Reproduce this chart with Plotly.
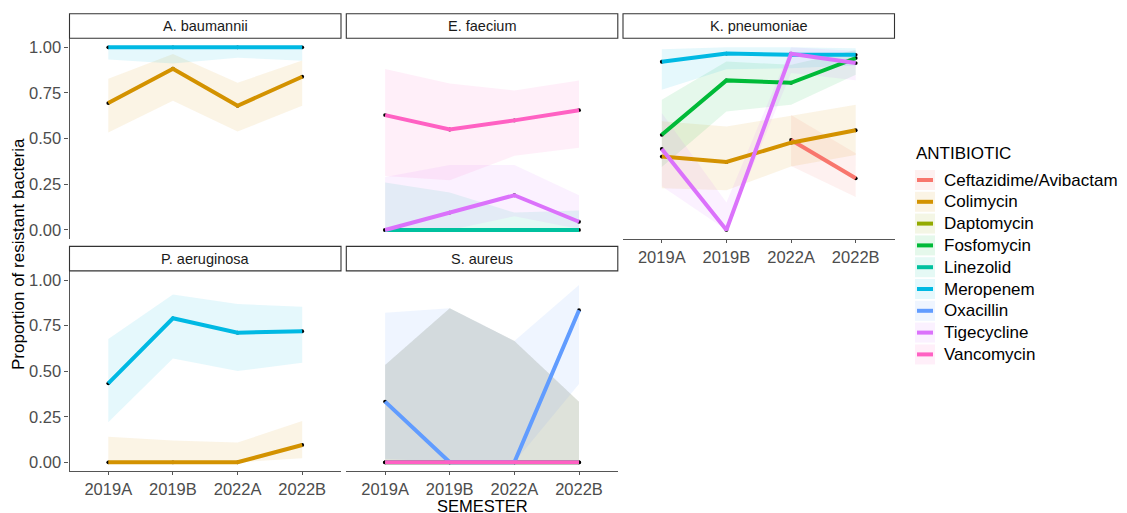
import plotly.graph_objects as go

W, H = 1127, 513

SEMESTERS = ["2019A", "2019B", "2022A", "2022B"]
ANTIBIOTICS = ["Ceftazidime/Avibactam", "Colimycin", "Daptomycin", "Fosfomycin",
               "Linezolid", "Meropenem", "Oxacillin", "Tigecycline", "Vancomycin"]
COLORS = ["#F8766D", "#D39200", "#93AA00", "#00BA38", "#00C19F",
          "#00B9E3", "#619CFF", "#DB72FB", "#FF61C3"]
Y_TICKS = [0, 0.25, 0.5, 0.75, 1.0]
Y_TICK_LABELS = ["0.00", "0.25", "0.50", "0.75", "1.00"]

# A. baumannii: proportion resistant, lower / upper confidence bound
ab_colimycin = [0.695, 0.883, 0.680, 0.839]
ab_colimycin_lo = [0.534, 0.707, 0.539, 0.680]
ab_colimycin_hi = [0.828, 0.963, 0.806, 0.928]
ab_meropenem = [1.0, 1.0, 1.0, 1.0]
ab_meropenem_lo = [0.934, 0.912, 0.943, 0.927]
ab_meropenem_hi = [1.0, 1.0, 1.0, 1.0]

# E. faecium
ef_linezolid = [0.0, 0.0, 0.0, 0.0]
ef_linezolid_lo = [0.0, 0.0, 0.0, 0.0]
ef_linezolid_hi = [0.26, 0.205, 0.095, 0.106]
ef_tigecycline = [0.0, 0.095, 0.19, 0.045]
ef_tigecycline_lo = [0.0, 0.0, 0.075, 0.005]
ef_tigecycline_hi = [0.29, 0.356, 0.356, 0.19]
ef_vancomycin = [0.629, 0.550, 0.600, 0.656]
ef_vancomycin_lo = [0.296, 0.272, 0.406, 0.450]
ef_vancomycin_hi = [0.881, 0.802, 0.764, 0.819]

# K. pneumoniae
kp_ceftazidime = [None, None, 0.493, 0.283]
kp_ceftazidime_lo = [None, None, 0.35, 0.18]
kp_ceftazidime_hi = [None, None, 0.63, 0.42]
kp_colimycin = [0.402, 0.372, 0.478, 0.546]
kp_colimycin_lo = [0.228, 0.217, 0.347, 0.41]
kp_colimycin_hi = [0.595, 0.567, 0.625, 0.685]
kp_fosfomycin = [0.521, 0.819, 0.806, 0.941]
kp_fosfomycin_lo = [0.345, 0.649, 0.685, 0.85]
kp_fosfomycin_hi = [0.713, 0.922, 0.905, 0.985]
kp_meropenem = [0.921, 0.966, 0.959, 0.959]
kp_meropenem_lo = [0.768, 0.88, 0.885, 0.9]
kp_meropenem_hi = [0.99, 1.0, 1.0, 0.995]
kp_tigecycline = [0.444, 0.0, 0.965, 0.914]
kp_tigecycline_lo = [0.24, 0.0, 0.86, 0.82]
kp_tigecycline_hi = [0.64, 0.15, 1.0, 0.98]

# P. aeruginosa
pa_colimycin = [0.0, 0.0, 0.0, 0.095]
pa_colimycin_lo = [0.0, 0.0, 0.0, 0.022]
pa_colimycin_hi = [0.14, 0.119, 0.108, 0.227]
pa_meropenem = [0.433, 0.790, 0.711, 0.719]
pa_meropenem_lo = [0.219, 0.570, 0.501, 0.546]
pa_meropenem_hi = [0.676, 0.921, 0.868, 0.854]

# S. aureus
sa_daptomycin = [0.0, 0.0, 0.0, 0.0]
sa_daptomycin_lo = [0.0, 0.0, 0.0, 0.0]
sa_daptomycin_hi = [0.534, 0.845, 0.665, 0.332]
sa_linezolid = [0.0, 0.0, 0.0, 0.0]
sa_linezolid_lo = [0.0, 0.0, 0.0, 0.0]
sa_linezolid_hi = [0.534, 0.845, 0.665, 0.332]
sa_oxacillin = [0.333, 0.0, 0.0, 0.834]
sa_oxacillin_lo = [0.02, 0.0, 0.0, 0.43]
sa_oxacillin_hi = [0.821, 0.845, 0.665, 0.973]
sa_vancomycin = [0.0, 0.0, 0.0, 0.0]
sa_vancomycin_lo = [0.0, 0.0, 0.0, 0.0]
sa_vancomycin_hi = [0.534, 0.845, 0.665, 0.332]

# facet -> (row, col, {antibiotic: (estimate, lower, upper)})
PANELS = [
    ("A. baumannii", 0, 0, {
        "Colimycin": (ab_colimycin, ab_colimycin_lo, ab_colimycin_hi),
        "Meropenem": (ab_meropenem, ab_meropenem_lo, ab_meropenem_hi)}),
    ("E. faecium", 0, 1, {
        "Linezolid": (ef_linezolid, ef_linezolid_lo, ef_linezolid_hi),
        "Tigecycline": (ef_tigecycline, ef_tigecycline_lo, ef_tigecycline_hi),
        "Vancomycin": (ef_vancomycin, ef_vancomycin_lo, ef_vancomycin_hi)}),
    ("K. pneumoniae", 0, 2, {
        "Ceftazidime/Avibactam": (kp_ceftazidime, kp_ceftazidime_lo, kp_ceftazidime_hi),
        "Colimycin": (kp_colimycin, kp_colimycin_lo, kp_colimycin_hi),
        "Fosfomycin": (kp_fosfomycin, kp_fosfomycin_lo, kp_fosfomycin_hi),
        "Meropenem": (kp_meropenem, kp_meropenem_lo, kp_meropenem_hi),
        "Tigecycline": (kp_tigecycline, kp_tigecycline_lo, kp_tigecycline_hi)}),
    ("P. aeruginosa", 1, 0, {
        "Colimycin": (pa_colimycin, pa_colimycin_lo, pa_colimycin_hi),
        "Meropenem": (pa_meropenem, pa_meropenem_lo, pa_meropenem_hi)}),
    ("S. aureus", 1, 1, {
        "Daptomycin": (sa_daptomycin, sa_daptomycin_lo, sa_daptomycin_hi),
        "Linezolid": (sa_linezolid, sa_linezolid_lo, sa_linezolid_hi),
        "Oxacillin": (sa_oxacillin, sa_oxacillin_lo, sa_oxacillin_hi),
        "Vancomycin": (sa_vancomycin, sa_vancomycin_lo, sa_vancomycin_hi)}),
]

# panel geometry in pixels
COL_PX = [(69.5, 341.0), (346.3, 617.8), (623.0, 894.5)]
ROW_PX = [(38.2, 239.1), (270.9, 471.4)]
STRIP_H = 24.5

FONT = "Liberation Sans, Arial, sans-serif"
AXIS_COL = "#555555"
TICK_TXT = "#4D4D4D"
LINE_W = 4.0


def fx(px):
    return px / W


def fy(py):
    return 1 - py / H


def rgba(hex_col, a):
    h = hex_col.lstrip("#")
    r, g, b = int(h[0:2], 16), int(h[2:4], 16), int(h[4:6], 16)
    return f"rgba({r},{g},{b},{a})"


fig = go.Figure()
shapes = []
annotations = []
layout_axes = {}

for k, (name, row, col, series) in enumerate(PANELS, start=1):
    xs = "x" if k == 1 else f"x{k}"
    ys = "y" if k == 1 else f"y{k}"
    xa = "xaxis" if k == 1 else f"xaxis{k}"
    ya = "yaxis" if k == 1 else f"yaxis{k}"
    x0, x1 = COL_PX[col]
    y0, y1 = ROW_PX[row]
    order = [a for a in ANTIBIOTICS if a in series]

    # is this panel on the outer left / bottom edge of the grid?
    show_y = col == 0
    show_x = row == 1 or col == 2

    # confidence ribbons
    for ab in order:
        est, lo, hi = series[ab]
        c = COLORS[ANTIBIOTICS.index(ab)]
        idx = [i for i, v in enumerate(est) if v is not None]
        cats = [SEMESTERS[i] for i in idx]
        fig.add_trace(go.Scatter(
            x=cats + cats[::-1],
            y=[hi[i] for i in idx] + [lo[i] for i in idx][::-1],
            fill="toself", fillcolor=rgba(c, 0.1), line=dict(width=0),
            mode="lines", hoverinfo="skip", showlegend=False,
            xaxis=xs, yaxis=ys))
    # points
    for ab in order:
        est, lo, hi = series[ab]
        idx = [i for i, v in enumerate(est) if v is not None]
        fig.add_trace(go.Scatter(
            x=[SEMESTERS[i] for i in idx], y=[est[i] for i in idx],
            mode="markers", marker=dict(color="black", size=3.8),
            showlegend=False, hoverinfo="skip", xaxis=xs, yaxis=ys))
    # lines
    for ab in order:
        est, lo, hi = series[ab]
        c = COLORS[ANTIBIOTICS.index(ab)]
        idx = [i for i, v in enumerate(est) if v is not None]
        fig.add_trace(go.Scatter(
            x=[SEMESTERS[i] for i in idx], y=[est[i] for i in idx],
            mode="lines", line=dict(color=c, width=LINE_W),
            name=ab, showlegend=False, xaxis=xs, yaxis=ys))

    layout_axes[xa] = dict(
        domain=[fx(x0), fx(x1)], anchor=ys, type="category",
        categoryorder="array", categoryarray=SEMESTERS,
        range=[-0.6, 3.6], showgrid=False, zeroline=False,
        showline=show_x, linecolor=AXIS_COL, linewidth=1.1,
        ticks="outside" if show_x else "", ticklen=3, tickcolor=AXIS_COL,
        showticklabels=show_x,
        tickfont=dict(family=FONT, size=16.5, color=TICK_TXT))
    layout_axes[ya] = dict(
        domain=[fy(y1), fy(y0)], anchor=xs, range=[-0.05, 1.05],
        tickvals=Y_TICKS, ticktext=Y_TICK_LABELS,
        showgrid=False, zeroline=False,
        showline=show_y, linecolor=AXIS_COL, linewidth=1.1,
        ticks="outside" if show_y else "", ticklen=4, tickcolor=AXIS_COL,
        showticklabels=show_y,
        tickfont=dict(family=FONT, size=16.5, color=TICK_TXT))

    # facet strip
    shapes.append(dict(type="rect", xref="paper", yref="paper",
                       x0=fx(x0), x1=fx(x1), y0=fy(y0), y1=fy(y0 - STRIP_H),
                       fillcolor="white", line=dict(color="#333333", width=1.1)))
    annotations.append(dict(text=name, xref="paper", yref="paper",
                            x=fx((x0 + x1) / 2), y=fy(y0 - STRIP_H / 2),
                            showarrow=False, xanchor="center", yanchor="middle",
                            font=dict(family=FONT, size=14.5, color="#1A1A1A")))

# axis titles
annotations.append(dict(text="SEMESTER", xref="paper", yref="paper",
                        x=fx(482), y=fy(505.5), showarrow=False,
                        xanchor="center", yanchor="middle", borderpad=0,
                        font=dict(family=FONT, size=16.5, color="black")))
annotations.append(dict(text="Proportion of resistant bacteria", xref="paper",
                        yref="paper", x=fx(18), y=fy(254), showarrow=False,
                        textangle=-90, xanchor="center", yanchor="middle",
                        font=dict(family=FONT, size=17, color="black")))

# legend
annotations.append(dict(text="ANTIBIOTIC", xref="paper", yref="paper",
                        x=fx(914), y=fy(153.5), showarrow=False,
                        xanchor="left", yanchor="middle",
                        font=dict(family=FONT, size=17, color="black")))
LEG_Y0, LEG_STEP = 180.0, 21.8
for i, (ab, c) in enumerate(zip(ANTIBIOTICS, COLORS)):
    cy = LEG_Y0 + i * LEG_STEP
    shapes.append(dict(type="rect", xref="paper", yref="paper",
                       x0=fx(915), x1=fx(935), y0=fy(cy + 10), y1=fy(cy - 10),
                       fillcolor=rgba(c, 0.1), line=dict(width=0)))
    shapes.append(dict(type="line", xref="paper", yref="paper",
                       x0=fx(917), x1=fx(933), y0=fy(cy), y1=fy(cy),
                       line=dict(color=c, width=LINE_W)))
    annotations.append(dict(text=ab, xref="paper", yref="paper",
                            x=fx(942), y=fy(cy), showarrow=False,
                            xanchor="left", yanchor="middle",
                            font=dict(family=FONT, size=17, color="black")))

fig.update_layout(
    width=W, height=H, margin=dict(l=0, r=0, t=0, b=0),
    paper_bgcolor="white", plot_bgcolor="rgba(0,0,0,0)",
    showlegend=False, shapes=shapes, annotations=annotations,
    **layout_axes)

fig.write_html("out.html")
